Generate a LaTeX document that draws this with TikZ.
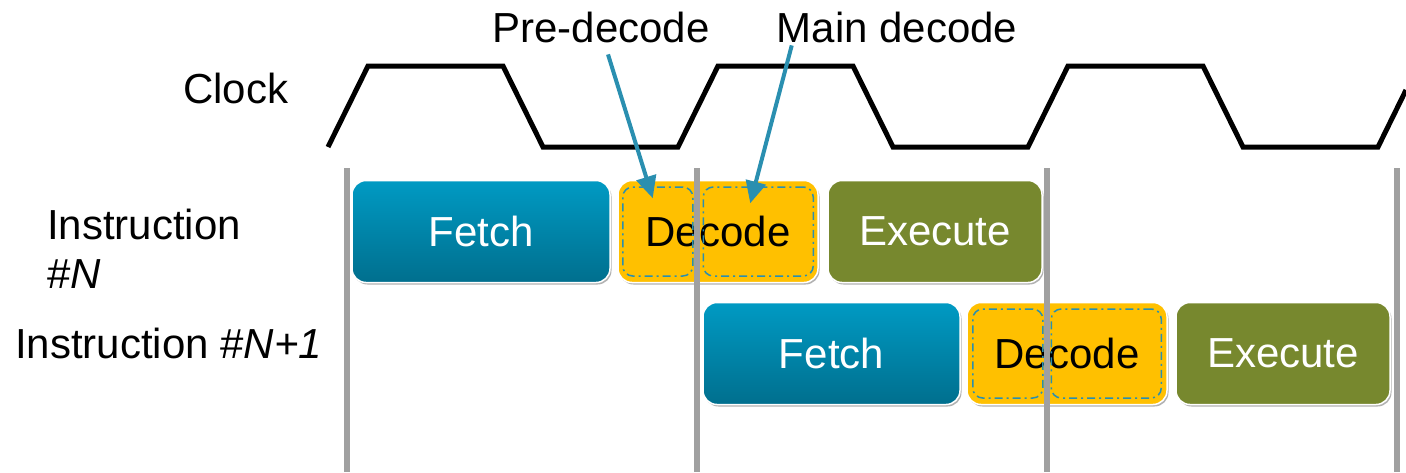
\documentclass[tikz,border=0pt]{standalone}
\usepackage{fontspec}
\setmainfont{Liberation Sans}
\usetikzlibrary{positioning,arrows.meta,shadows}

\definecolor{fetchtop}{HTML}{009AC3}
\definecolor{fetchbot}{HTML}{006F8E}
\definecolor{decodefill}{HTML}{FFC000}
\definecolor{execfill}{HTML}{77882E}
\definecolor{pointercol}{HTML}{2A8FB0}
\definecolor{gridgray}{HTML}{A0A0A0}

\begin{document}
\begin{tikzpicture}[x=1pt, y=-1pt, font=\fontsize{42}{49}\selectfont,
    stage/.style={rectangle, rounded corners=14pt, minimum height=102pt, inner sep=0pt, outer sep=0pt,
        draw=white, line width=1.5pt, drop shadow={shadow xshift=1.5pt, shadow yshift=-2pt, opacity=.3, fill=black}},
    fetchbox/.style={stage, top color=fetchtop, bottom color=fetchbot, text=white, minimum width=258pt},
    decodebox/.style={stage, fill=decodefill, text=black, minimum width=200pt},
    execbox/.style={stage, fill=execfill, text=white, minimum width=214pt},
    subbox/.style={rectangle, rounded corners=10pt, draw=pointercol, line width=1.5pt, inner sep=0pt,
        dash pattern=on 8pt off 4pt on 2pt off 4pt, minimum height=89pt},
    pointer/.style={draw=pointercol, line width=4pt, -{Triangle[length=22pt, width=20pt]}},
    label/.style={inner sep=0pt, outer sep=0pt}]
    \useasboundingbox (0,0) rectangle (1406,472);

    % Clock
    \draw[line width=5pt, line join=miter] (328,147)
        \foreach \cyc in {1,2,3} { -- ++(40,-81) -- ++(135,0) -- ++(40,81) -- ++(135,0) } -- ++(28,-57);

    % Labels
    \node[label, anchor=base west] (clock) at (183,103) {Clock};
    \node[label, anchor=base west, align=left] (instrN) at (47,288) {Instruction\\\#\textit{N}};
    \node[label, anchor=base west] (instrM) at (15,358) {Instruction \#\textit{N+1}};
    \node[label, anchor=base] (predec) at (601,42) {Pre-decode};
    \node[label, anchor=base] (maindec) at (897,42) {Main decode};

    % Stages
    \node[fetchbox] (fetchN) at (481,231.5) {Fetch};
    \node[decodebox, right=8pt of fetchN] (decN) {Decode};
    \node[execbox, right=10pt of decN] (execN) {Execute};

    \node[fetchbox, minimum width=257pt] (fetchM) at (831.5,353.5) {Fetch};
    \node[decodebox, right=7pt of fetchM] (decM) {Decode};
    \node[execbox, right=9pt of decM] (execM) {Execute};

    % Decode halves
    \node[subbox, minimum width=70pt, anchor=west] (preN) at ([xshift=4pt]decN.west) {};
    \node[subbox, minimum width=110pt, anchor=east] (mainN) at ([xshift=-4pt]decN.east) {};
    \node[subbox, minimum width=70pt, anchor=west] (preM) at ([xshift=5pt]decM.west) {};
    \node[subbox, minimum width=110pt, anchor=east] (mainM) at ([xshift=-5pt]decM.east) {};

    % Cycle boundaries
    \foreach \gx in {347,697,1047,1397}
        \draw[gridgray, line width=6pt] (\gx,168) -- (\gx,472);

    % Pointers
    \draw[pointer] ([xshift=7pt, yshift=-12pt]predec.south) -- ([xshift=-5pt, yshift=-12pt]preN.north);
    \draw[pointer] ([xshift=15pt, yshift=-3pt]maindec.south west) -- ([xshift=-8pt, yshift=-17pt]mainN.north);
\end{tikzpicture}
\end{document}
